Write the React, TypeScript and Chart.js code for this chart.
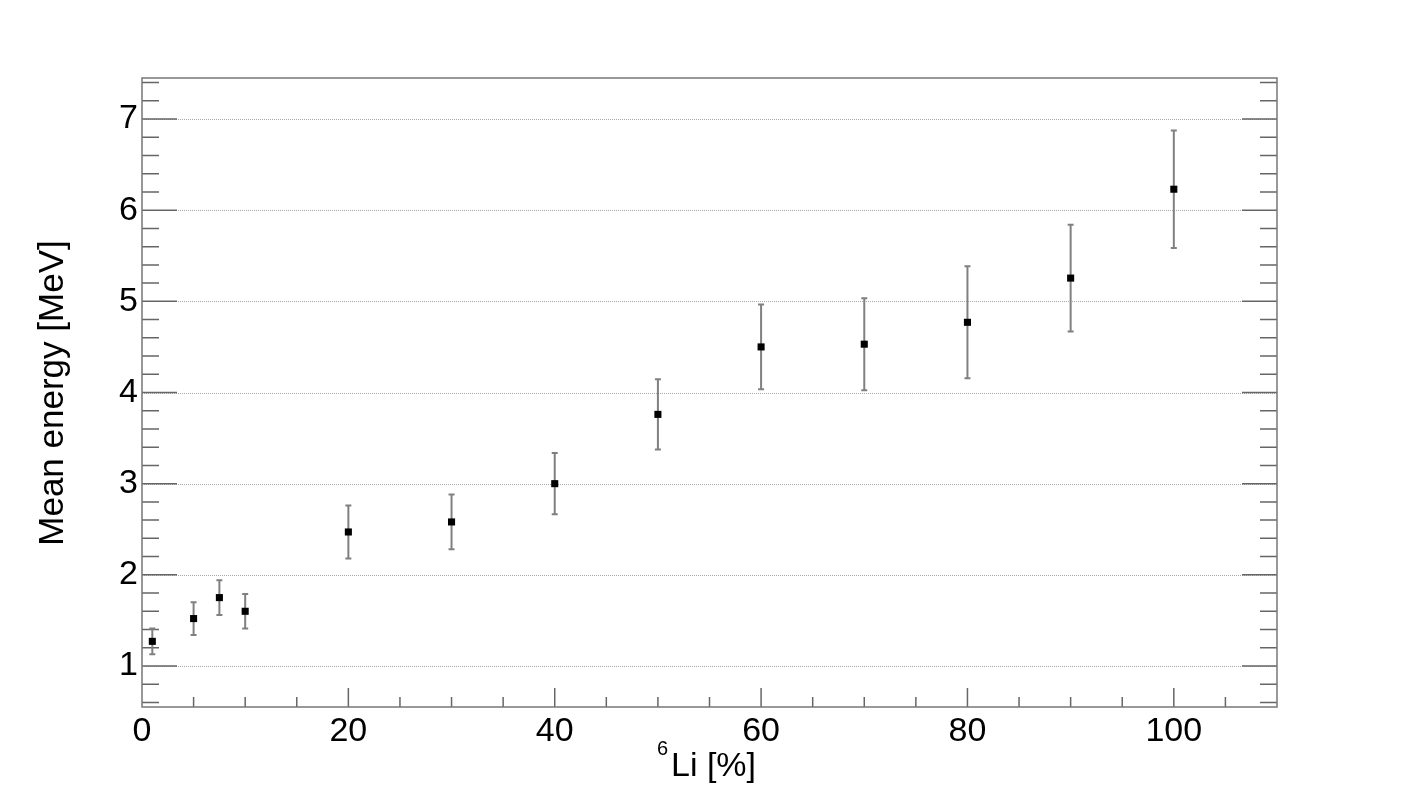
import React, { useEffect, useRef } from "react";
import { Chart, registerables } from "chart.js";

Chart.register(...registerables);

const liPercent = [1, 5, 7.5, 10, 20, 30, 40, 50, 60, 70, 80, 90, 100];
const meanEnergy = [1.27, 1.52, 1.75, 1.6, 2.47, 2.58, 3.0, 3.76, 4.5, 4.53, 4.77, 5.255, 6.23];
const energyError = [0.14, 0.18, 0.19, 0.19, 0.29, 0.3, 0.335, 0.385, 0.465, 0.505, 0.615, 0.585, 0.645];

const xMajorTicks = [0, 20, 40, 60, 80, 100];
const yMajorTicks = [1, 2, 3, 4, 5, 6, 7];
const X_MIN = 0, X_MAX = 110, Y_MIN = 0.55, Y_MAX = 7.45;
const X_MINOR_STEP = 5, Y_MINOR_STEP = 0.2;

const FONT = "Liberation Sans, Arial, Helvetica, sans-serif";

const rootStyle = {
  id: "rootStyle",
  beforeDatasetsDraw(chart: any) {
    const { ctx, chartArea: a, scales } = chart;
    const xs = scales.x, ys = scales.y;
    ctx.save();
    // grid lines (dotted) at major y ticks
    ctx.strokeStyle = "#a8a8a8";
    ctx.lineWidth = 1;
    ctx.setLineDash([1, 1]);
    for (const v of yMajorTicks) {
      const y = Math.round(ys.getPixelForValue(v)) + 0.5;
      ctx.beginPath();
      ctx.moveTo(a.left, y);
      ctx.lineTo(a.right, y);
      ctx.stroke();
    }
    ctx.setLineDash([]);
    // y ticks left/right
    ctx.strokeStyle = "#666";
    ctx.lineWidth = 1.5;
    for (let i = 0; i < 60; i++) {
      const v = Math.round((0.6 + i * Y_MINOR_STEP) * 1000) / 1000;
      if (v > Y_MAX) break;
      const major = Math.abs(v - Math.round(v)) < 1e-6;
      const len = major ? 35 : 17;
      const y = ys.getPixelForValue(v);
      ctx.beginPath();
      ctx.moveTo(a.left, y);
      ctx.lineTo(a.left + len, y);
      ctx.moveTo(a.right, y);
      ctx.lineTo(a.right - len, y);
      ctx.stroke();
    }
    // x ticks bottom
    for (let v = X_MIN + X_MINOR_STEP; v < X_MAX; v += X_MINOR_STEP) {
      const major = v % 20 === 0;
      const len = major ? 19 : 10;
      const x = xs.getPixelForValue(v);
      ctx.beginPath();
      ctx.moveTo(x, a.bottom);
      ctx.lineTo(x, a.bottom - len);
      ctx.stroke();
    }
    // frame
    ctx.strokeStyle = "#777";
    ctx.lineWidth = 1.5;
    ctx.strokeRect(a.left, a.top, a.right - a.left, a.bottom - a.top);
    // error bars
    ctx.strokeStyle = "#808080";
    ctx.lineWidth = 2;
    for (let i = 0; i < liPercent.length; i++) {
      const x = xs.getPixelForValue(liPercent[i]);
      const yt = ys.getPixelForValue(meanEnergy[i] + energyError[i]);
      const yb = ys.getPixelForValue(meanEnergy[i] - energyError[i]);
      ctx.beginPath();
      ctx.moveTo(x, yt);
      ctx.lineTo(x, yb);
      ctx.moveTo(x - 3, yt);
      ctx.lineTo(x + 3, yt);
      ctx.moveTo(x - 3, yb);
      ctx.lineTo(x + 3, yb);
      ctx.stroke();
    }
    ctx.restore();
  },
  afterDraw(chart: any) {
    const { ctx } = chart;
    ctx.save();
    ctx.fillStyle = "#000";
    // y title
    ctx.font = `35px ${FONT}`;
    ctx.translate(53, 393);
    ctx.rotate(-Math.PI / 2);
    ctx.textAlign = "center";
    ctx.textBaseline = "middle";
    ctx.fillText("Mean energy [MeV]", 0, 0);
    ctx.restore();
    ctx.save();
    ctx.fillStyle = "#000";
    ctx.textAlign = "left";
    ctx.textBaseline = "alphabetic";
    ctx.font = `20px ${FONT}`;
    ctx.fillText("6", 657, 755);
    ctx.font = `34px ${FONT}`;
    ctx.fillText("Li [%]", 671, 776);
    ctx.restore();
  },
};

export default function App() {
  const ref = useRef<HTMLCanvasElement>(null);
  useEffect(() => {
    document.body.style.margin = "0";
    const canvas = ref.current!;
    const chart = new Chart(canvas, {
      type: "scatter",
      data: {
        datasets: [
          {
            data: liPercent.map((x, i) => ({ x, y: meanEnergy[i] })),
            pointStyle: "rect",
            pointRadius: 5,
            pointBackgroundColor: "#000",
            pointBorderWidth: 0,
            borderWidth: 0,
          },
        ],
      },
      options: {
        animation: false,
        responsive: false,
        layout: { padding: { left: 0, top: 78, right: 143, bottom: 0 } },
        plugins: { legend: { display: false }, tooltip: { enabled: false } },
        scales: {
          x: {
            type: "linear",
            min: X_MIN,
            max: X_MAX,
            afterBuildTicks: (s: any) => {
              s.ticks = xMajorTicks.map((v) => ({ value: v }));
            },
            afterFit: (s: any) => {
              s.height = 79;
            },
            grid: { display: false, drawTicks: false },
            border: { display: false },
            ticks: {
              color: "#000",
              font: { family: FONT, size: 34 },
              padding: 4,
              maxRotation: 0,
              autoSkip: false,
              callback: (v: any) => String(v),
            },
          },
          y: {
            type: "linear",
            min: Y_MIN,
            max: Y_MAX,
            afterBuildTicks: (s: any) => {
              s.ticks = yMajorTicks.map((v) => ({ value: v }));
            },
            afterFit: (s: any) => {
              s.width = 142;
            },
            grid: { display: false, drawTicks: false },
            border: { display: false },
            ticks: {
              color: "#000",
              font: { family: FONT, size: 34 },
              padding: 4,
              autoSkip: false,
              callback: (v: any) => String(v),
            },
          },
        },
      },
      plugins: [rootStyle],
    });
    return () => chart.destroy();
  }, []);
  return (
    <div style={{ width: 1420, height: 786, background: "#fff" }}>
      <canvas ref={ref} width={1420} height={786} style={{ display: "block" }} />
    </div>
  );
}
